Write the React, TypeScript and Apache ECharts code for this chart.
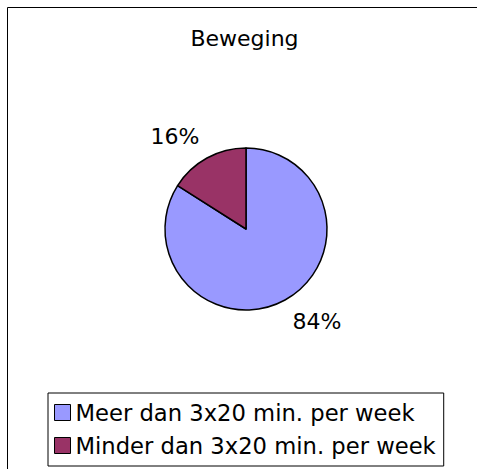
import React, { useEffect, useRef } from "react";
import * as echarts from "echarts";

const titleText = "Beweging";
const categories = ["Meer dan 3x20 min. per week", "Minder dan 3x20 min. per week"];
const values = [84, 16];
const colors = ["#9999FF", "#993366"];

const FONT = "'DejaVu Sans', Verdana, sans-serif";

export default function App() {
  const ref = useRef<HTMLDivElement>(null);
  useEffect(() => {
    if (!ref.current) return;
    const chart = echarts.init(ref.current, undefined, { renderer: "svg" });
    chart.setOption({
      animation: false,
      backgroundColor: "#ffffff",
      textStyle: { fontFamily: FONT },
      graphic: [
        {
          type: "rect",
          shape: { x: 7.5, y: 7.5, width: 600, height: 600 },
          style: { fill: "none", stroke: "#000", lineWidth: 1 },
          silent: true,
        },
        {
          type: "text",
          x: 244.5,
          y: 38,
          style: {
            text: titleText,
            align: "center",
            verticalAlign: "middle",
            fontSize: 22,
            fontFamily: FONT,
            fill: "#000",
          },
        },
      ],
      legend: {
        orient: "vertical",
        left: 48,
        top: 393,
        padding: [3, 8, 4, 6],
        itemGap: 0,
        itemWidth: 16,
        itemHeight: 16,
        icon: "rect",
        borderColor: "#000",
        borderWidth: 1,
        backgroundColor: "#fff",
        itemStyle: { borderColor: "#000", borderWidth: 1 },
        textStyle: { fontSize: 22.67, lineHeight: 33, color: "#000", fontFamily: FONT },
        data: categories,
      },
      series: [
        {
          type: "pie",
          center: [246, 229],
          radius: 81,
          startAngle: 90,
          clockwise: true,
          avoidLabelOverlap: false,
          itemStyle: { borderColor: "#000", borderWidth: 1.5 },
          emphasis: { disabled: true },
          label: {
            show: true,
            position: "outside",
            formatter: (p: any) => `${p.value}%`,
            fontSize: 22,
            color: "#000",
            fontFamily: FONT,
            distanceToLabelLine: -4,
          },
          labelLine: { show: false, length: 24, length2: 0 },
          data: categories.map((name, i) => ({
            name,
            value: values[i],
            itemStyle: { color: colors[i] },
          })),
        },
      ],
    });
    return () => chart.dispose();
  }, []);
  return (
    <div
      ref={ref}
      style={{ position: "fixed", left: 0, top: 0, width: 477, height: 469, background: "#fff" }}
    />
  );
}
